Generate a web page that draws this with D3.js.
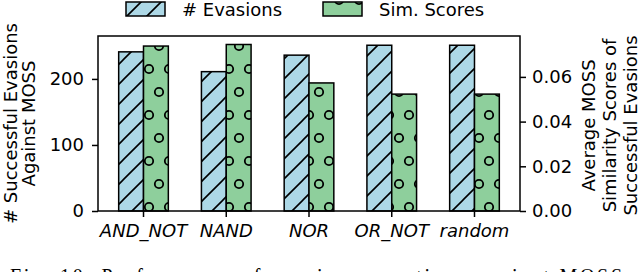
<!DOCTYPE html>
<html>
<head>
<meta charset="utf-8">
<script src="https://cdn.jsdelivr.net/npm/d3@7"></script>
<style>
  body { margin: 0; background: #fff; }
  svg { display: block; }
  text { font-family: "DejaVu Sans", sans-serif; fill: #000; }
</style>
</head>
<body>
<div id="chart"></div>
<script>
// data
const categories = ["AND_NOT", "NAND", "NOR", "OR_NOT", "random"];
const evasions = [241, 211, 236, 251, 251];
const simScores = [0.0738, 0.0745, 0.0573, 0.0523, 0.0523];
const leftTicks = [0, 100, 200];
const rightTicks = [0, 0.02, 0.04, 0.06];
const seriesNames = ["# Evasions", "Sim. Scores"];
const caption = "Fig. 10: Performance of evasion operations against MOSS";

const W = 640, H = 272;
const margin = { top: 36, right: 120, bottom: 61, left: 98 };
const plotW = W - margin.left - margin.right;
const plotH = H - margin.top - margin.bottom;

const svg = d3.select("#chart").append("svg")
    .attr("width", W)
    .attr("height", H);

// hatch patterns (aligned to the whole picture like matplotlib does)
const defs = svg.append("defs");
const diag = defs.append("pattern")
    .attr("id", "hatchDiag")
    .attr("patternUnits", "userSpaceOnUse")
    .attr("x", 3).attr("y", 0)
    .attr("width", 20).attr("height", 20);
diag.append("rect").attr("width", 20).attr("height", 20).attr("fill", "#add8e6");
diag.append("path")
    .attr("d", "M-5,5 L5,-5 M0,20 L20,0 M15,25 L25,15")
    .attr("stroke", "#000")
    .attr("stroke-width", 1.6);

const dots = defs.append("pattern")
    .attr("id", "hatchDots")
    .attr("patternUnits", "userSpaceOnUse")
    .attr("x", 149).attr("y", 69)
    .attr("width", 20).attr("height", 46);
dots.append("rect").attr("width", 20).attr("height", 46).attr("fill", "#8ecf9c");
[[0, 0], [20, 0], [0, 46], [20, 46], [10, 23]].forEach(([cx, cy]) => {
    dots.append("circle")
        .attr("cx", cx).attr("cy", cy).attr("r", 4.2)
        .attr("fill", "none")
        .attr("stroke", "#000")
        .attr("stroke-width", 1.8);
});

const x = d3.scaleBand()
    .domain(categories)
    .range([margin.left, margin.left + plotW])
    .paddingInner(0.4)
    .paddingOuter(0.25);

const yL = d3.scaleLinear().domain([0, 265]).range([margin.top + plotH, margin.top]);
const yR = d3.scaleLinear().domain([0, 0.0783]).range([margin.top + plotH, margin.top]);

const bw = x.bandwidth() / 2;

const g = svg.append("g");

// evasions bars
g.selectAll(".bar-ev")
    .data(categories)
    .enter()
    .append("rect")
    .attr("class", "bar-ev")
    .attr("x", d => x(d))
    .attr("width", bw)
    .attr("y", (d, i) => yL(evasions[i]))
    .attr("height", (d, i) => yL(0) - yL(evasions[i]))
    .attr("fill", "url(#hatchDiag)")
    .attr("stroke", "#000")
    .attr("stroke-width", 1.5);

// similarity bars
g.selectAll(".bar-sim")
    .data(categories)
    .enter()
    .append("rect")
    .attr("class", "bar-sim")
    .attr("x", d => x(d) + bw)
    .attr("width", bw)
    .attr("y", (d, i) => yR(simScores[i]))
    .attr("height", (d, i) => yR(0) - yR(simScores[i]))
    .attr("fill", "url(#hatchDots)")
    .attr("stroke", "#000")
    .attr("stroke-width", 1.5);

// axes
const xAxis = svg.append("g")
    .attr("transform", `translate(0,${margin.top + plotH})`)
    .call(d3.axisBottom(x).tickSize(6).tickPadding(7));
xAxis.selectAll("text")
    .style("font-size", "18px")
    .style("font-style", "italic");

const leftAxis = svg.append("g")
    .attr("transform", `translate(${margin.left},0)`)
    .call(d3.axisLeft(yL).tickValues(leftTicks).tickSize(6).tickPadding(8));
leftAxis.selectAll("text").style("font-size", "18px");

const rightAxis = svg.append("g")
    .attr("transform", `translate(${margin.left + plotW},0)`)
    .call(d3.axisRight(yR).tickValues(rightTicks).tickFormat(d3.format(".2f")).tickSize(6).tickPadding(6));
rightAxis.selectAll("text").style("font-size", "18px");

[xAxis, leftAxis, rightAxis].forEach(a => {
    a.select(".domain").remove();
    a.selectAll(".tick line").attr("stroke-width", 1.5);
});

// frame
svg.append("rect")
    .attr("x", margin.left)
    .attr("y", margin.top)
    .attr("width", plotW)
    .attr("height", plotH)
    .attr("fill", "none")
    .attr("stroke", "#000")
    .attr("stroke-width", 1.5);

// axis labels
const cy = margin.top + plotH / 2;
const leftLabel = svg.append("text")
    .attr("transform", `translate(17,${cy}) rotate(-90)`)
    .attr("text-anchor", "middle")
    .style("font-size", "18px");
leftLabel.append("tspan").attr("x", 0).attr("dy", 0).text("# Successful Evasions");
leftLabel.append("tspan").attr("x", 0).attr("dy", 18).text("Against MOSS");

const rightLabel = svg.append("text")
    .attr("transform", `translate(594.5,${cy + 2}) rotate(-90)`)
    .attr("text-anchor", "middle")
    .style("font-size", "18px");
rightLabel.append("tspan").attr("x", 0).attr("dy", 0).text("Average MOSS");
rightLabel.append("tspan").attr("x", 0).attr("dy", 21).text("Similarity Scores of");
rightLabel.append("tspan").attr("x", 0).attr("dy", 21).text("Successful Evasions");

// legend
const legendFills = ["url(#hatchDiag)", "url(#hatchDots)"];
const legendX = [126, 323];
seriesNames.forEach((name, i) => {
    svg.append("rect")
        .attr("x", legendX[i])
        .attr("y", 2)
        .attr("width", 39)
        .attr("height", 14)
        .attr("fill", legendFills[i])
        .attr("stroke", "#000")
        .attr("stroke-width", 1.5);
    svg.append("text")
        .attr("x", legendX[i] + 56)
        .attr("y", 16)
        .style("font-size", "18px")
        .text(name);
});

// figure caption (cut off by the picture edge)
svg.append("text")
    .attr("x", 10)
    .attr("y", 283)
    .attr("textLength", 612)
    .attr("lengthAdjust", "spacing")
    .style("font-family", "'Liberation Serif', serif")
    .style("font-size", "20px")
    .text(caption);
</script>
</body>
</html>
